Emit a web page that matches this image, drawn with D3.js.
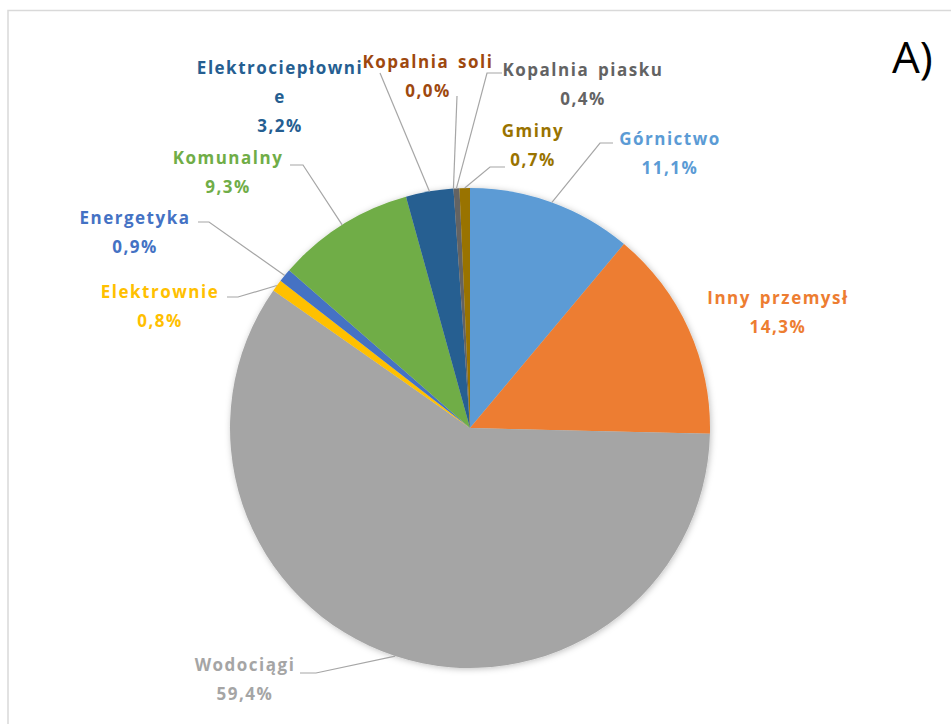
<!DOCTYPE html>
<html>
<head>
<meta charset="utf-8">
<script src="https://cdn.jsdelivr.net/npm/d3@7"></script>
<style>
  body { margin: 0; background: #fff; }
  svg { display: block; }
  .lbl { font-family: "Open Sans", sans-serif; font-weight: 700; font-size: 17px; letter-spacing: 1.5px; word-spacing: 3px; }
</style>
</head>
<body>
<div id="chart"></div>
<script>
// data (clockwise from 12 o'clock)
const categories = ["Górnictwo", "Inny przemysł", "Wodociągi", "Elektrownie", "Energetyka",
  "Komunalny", "Elektrociepłownie", "Kopalnia soli", "Kopalnia piasku", "Gminy"];
const values = [11.1, 14.3, 59.4, 0.8, 0.9, 9.3, 3.2, 0.0, 0.4, 0.7];
const valueLabels = ["11,1%", "14,3%", "59,4%", "0,8%", "0,9%", "9,3%", "3,2%", "0,0%", "0,4%", "0,7%"];
const colors = ["#5B9BD5", "#ED7D31", "#A5A5A5", "#FFC000", "#4472C4",
  "#70AD47", "#255E91", "#9E480E", "#636363", "#997300"];

// label placement (text lines + centre) and leader line knee
const labelLines = [["Górnictwo"], ["Inny przemysł"], ["Wodociągi"], ["Elektrownie"], ["Energetyka"],
  ["Komunalny"], ["Elektrociepłowni", "e"], ["Kopalnia soli"], ["Kopalnia piasku"], ["Gminy"]];
const labelPos = [[670, 139], [778, 298], [245, 665], [160, 292], [135, 218],
  [228, 158], [280, 68], [428, 62], [583, 70], [533, 131]];
const leaderStart = [[613, 143], null, [300, 673], [227, 297], [198, 222],
  [290, 165], [380, 73], [457, 96], [502, 73], [505, 167]];
const leaderKnee = [[600, 143], null, [316, 673], [238, 297], [209, 222],
  [303, 165], null, null, [487, 73], [490, 167]];

const W = 951, H = 724;
const cx = 470, cy = 428, R = 240;

const svg = d3.select("#chart").append("svg").attr("width", W).attr("height", H);

// chart frame
svg.append("rect")
  .attr("x", 8).attr("y", 10.5)
  .attr("width", W + 20).attr("height", H + 20)
  .attr("fill", "#fff")
  .attr("stroke", "#D9D9D9").attr("stroke-width", 1.5);

const defs = svg.append("defs");
const f = defs.append("filter").attr("id", "shadow")
  .attr("x", "-10%").attr("y", "-10%").attr("width", "120%").attr("height", "120%");
f.append("feDropShadow").attr("dx", 1).attr("dy", 1).attr("stdDeviation", 3)
  .attr("flood-color", "#000").attr("flood-opacity", 0.25);

const pie = d3.pie().sort(null).value(d => d);
const arcs = pie(values);
const arc = d3.arc().innerRadius(0).outerRadius(R);

const g = svg.append("g").attr("transform", `translate(${cx},${cy})`);
g.append("g").attr("filter", "url(#shadow)")
  .selectAll("path")
  .data(arcs)
  .enter()
  .append("path")
  .attr("d", arc)
  .attr("fill", (d, i) => colors[i]);

// leader lines: from label to the middle of the slice's outer edge
const edge = d3.arc().innerRadius(R).outerRadius(R);
const leaders = svg.append("g");
arcs.forEach(function (d, i) {
  if (!leaderStart[i]) return;
  const p = edge.centroid(d);
  const pts = [leaderStart[i]];
  if (leaderKnee[i]) pts.push(leaderKnee[i]);
  pts.push([cx + p[0], cy + p[1]]);
  leaders.append("path")
    .attr("d", d3.line()(pts))
    .attr("fill", "none")
    .attr("stroke", "#A6A6A6")
    .attr("stroke-width", 1.2);
});

// labels
const lblLayer = svg.append("g");
categories.forEach(function (c, i) {
  const lines = labelLines[i].concat([valueLabels[i]]);
  const [x, y] = labelPos[i];
  const t = lblLayer.append("text")
    .attr("class", "lbl")
    .attr("fill", colors[i])
    .attr("text-anchor", "middle");
  lines.forEach(function (s, k) {
    t.append("tspan")
      .attr("x", x)
      .attr("y", y + k * 29)
      .attr("dy", "0.35em")
      .text(s);
  });
});

svg.append("text")
  .attr("x", 892).attr("y", 73)
  .attr("font-family", "Open Sans, sans-serif")
  .attr("font-size", 44)
  .attr("fill", "#000")
  .text("A)");
</script>
</body>
</html>
